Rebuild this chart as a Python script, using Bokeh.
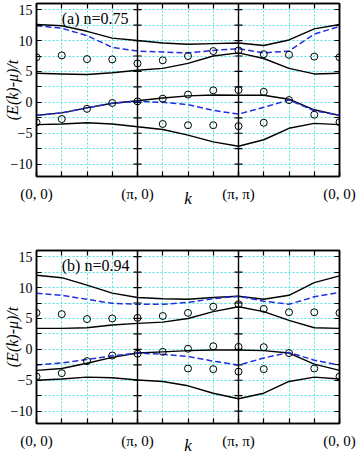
from bokeh.plotting import figure
from bokeh.models import FixedTicker, Label, Range1d, LinearAxis, Span
from bokeh.layouts import column
from bokeh.embed import file_html
from bokeh.resources import INLINE

# k-path positions (0,0)->(pi,0)->(pi,pi)->(0,0), each segment split in quarters
xq = [0, 0.25, 0.5, 0.75, 1, 1.25, 1.5, 1.75, 2, 2.25, 2.5, 2.75, 3]
x_major = [0, 1, 2, 3]
x_labels = ["(0, 0)", "(\u03c0, 0)", "(\u03c0, \u03c0)", "(0, 0)"]
dividers = [1, 2]
y_major = [-10, -5, 0, 5, 10, 15]
y_grid = [-10, -7.5, -5, -2.5, 0, 2.5, 5, 7.5, 10, 12.5, 15]

# ---- panel (a) n=0.75 ----
a_band1 = [12.6, 12.4, 11.5, 10.4, 10.0, 9.6, 9.4, 9.5, 9.6, 9.2, 10.1, 11.9, 12.6]
a_band2 = [4.7, 4.6, 4.5, 4.8, 5.2, 5.5, 6.3, 7.5, 8.0, 7.1, 5.5, 4.6, 4.7]
a_band3 = [-2.1, -1.7, -0.9, -0.15, 0.26, 0.7, 1.05, 1.2, 1.15, 1.15, 0.5, -1.2, -2.1]
a_band4 = [-3.6, -3.5, -3.3, -3.5, -3.95, -4.4, -5.3, -6.4, -7.1, -6.05, -4.2, -3.4, -3.6]
a_dash1 = [12.4, 12.0, 10.8, 8.9, 8.3, 8.15, 8.0, 8.4, 8.7, 8.0, 8.3, 11.05, 12.3]
a_dash2 = [-2.1, -1.7, -0.9, -0.15, 0.16, 0.0, -0.37, -1.3, -1.9, -0.8, 0.37, -1.35, -2.1]
a_circ_up = [7.3, 7.6, 7.0, 6.95, 6.3, 6.8, 7.5, 8.3, 8.4, 7.8, 7.7, 7.4, 7.3]
a_circ_mid = [-3.25, -2.7, -1.05, -0.1, 0.16, 0.6, 1.26, 1.95, 2.0, 1.7, 0.37, -2.0, -3.2]
a_circ_low_x = [1.25, 1.5, 1.75, 2.0, 2.25]
a_circ_low = [-3.5, -3.7, -3.7, -3.85, -3.3]

# ---- panel (b) n=0.94 ----
b_band1 = [12.0, 11.6, 10.4, 9.1, 8.4, 8.2, 8.1, 8.4, 8.6, 8.1, 8.75, 10.8, 11.9]
b_band2 = [3.4, 3.4, 3.5, 3.95, 4.2, 4.4, 5.0, 6.1, 6.9, 6.1, 4.7, 3.5, 3.4]
b_band3 = [-3.4, -3.1, -2.25, -1.3, -0.6, -0.4, -0.2, -0.1, -0.1, -0.2, -0.6, -2.4, -3.4]
b_band4 = [-5.0, -4.8, -4.5, -4.6, -4.95, -5.2, -5.9, -7.1, -8.0, -7.1, -5.2, -4.5, -4.8]
b_dash1 = [9.1, 8.75, 8.1, 7.45, 7.3, 7.3, 7.6, 8.2, 8.6, 7.8, 7.3, 8.5, 9.2]
b_dash2 = [-2.55, -2.2, -1.65, -1.05, -0.6, -0.8, -1.15, -1.9, -2.55, -1.4, -0.5, -1.75, -2.55]
b_circ_up = [5.9, 5.7, 4.9, 5.0, 5.1, 5.4, 5.9, 6.9, 7.3, 6.55, 6.0, 6.0, 5.9]
b_circ_mid = [-4.4, -3.85, -1.9, -1.0, -0.7, -0.4, 0.1, 0.5, 0.4, 0.35, -0.6, -3.1, -4.4]
b_circ_low_x = [1.5, 1.75, 2.0, 2.25]
b_circ_low = [-3.1, -3.2, -3.6, -3.2]

SERIF = "Liberation Serif"
BLUE = "#2030e0"
GRID = "#4fe3e3"


def make_panel(tag, bands, dashes, circ_up, circ_mid, low_x, low_y,
               border_top, border_bottom):
    p = figure(frame_width=303, frame_height=173, output_backend="svg",
               toolbar_location=None, x_range=Range1d(0, 3), y_range=Range1d(-12, 16),
               min_border_left=26, min_border_right=19,
               min_border_top=border_top, min_border_bottom=border_bottom)
    p.background_fill_color = "white"
    p.outline_line_color = "black"
    p.outline_line_width = 1.5

    # grid
    p.xgrid.ticker = FixedTicker(ticks=xq)
    p.ygrid.ticker = FixedTicker(ticks=y_grid)
    for g in (p.xgrid, p.ygrid):
        g.grid_line_color = GRID
        g.grid_line_dash = "2 2"
        g.grid_line_width = 1

    # bottom axis
    xa = p.xaxis[0]
    xa.ticker = FixedTicker(ticks=x_major, minor_ticks=xq)
    xa.major_label_overrides = {t: l for t, l in zip(x_major, x_labels)}
    xa.axis_label = "k"
    # left axis
    ya = p.yaxis[0]
    ya.ticker = FixedTicker(ticks=y_major, minor_ticks=y_grid)
    ya.axis_label = "(E(k)-\u03bc)/t"

    top = LinearAxis(ticker=FixedTicker(ticks=[], minor_ticks=xq))
    right = LinearAxis(ticker=FixedTicker(ticks=[], minor_ticks=y_grid))
    p.add_layout(top, "above")
    p.add_layout(right, "right")

    for ax in (xa, ya, top, right):
        ax.axis_line_color = "black"
        ax.axis_line_width = 1.5
        ax.major_tick_in = 5
        ax.major_tick_out = 0
        ax.minor_tick_in = 5
        ax.minor_tick_out = 0
        ax.major_tick_line_color = "black"
        ax.minor_tick_line_color = "black"
        ax.major_tick_line_width = 1.2
        ax.minor_tick_line_width = 1.2
        ax.major_label_text_font = SERIF
        ax.axis_label_text_font = SERIF
        ax.axis_label_text_font_style = "italic"
        ax.axis_label_text_color = "black"
        ax.major_label_text_color = "black"
    for ax in (top, right):
        ax.major_label_standoff = 0
        ax.axis_label_standoff = 0
    xa.major_label_text_font_size = "15px"
    xa.major_label_standoff = 9
    xa.axis_label_text_font_size = "17px"
    xa.axis_label_standoff = -16
    ya.major_label_text_font_size = "14px"
    ya.major_label_standoff = 4
    ya.axis_label_text_font_size = "16px"
    ya.axis_label_standoff = -13

    # section dividers with ticks on both sides
    for d in dividers:
        p.add_layout(Span(location=d, dimension="height", line_color="black",
                          line_width=1.4))
        p.scatter(x=[d] * len(y_grid), y=y_grid, marker="dash", size=8,
                  line_color="black", line_width=1.2)

    for b in bands:
        p.line(xq, b, line_color="black", line_width=1.4)
    for dsh in dashes:
        p.line(xq, dsh, line_color=BLUE, line_width=1.5, line_dash="6 3")

    p.scatter(xq, circ_up, marker="circle", size=7, fill_color=None,
              line_color="black", line_width=1)
    p.scatter(xq, circ_mid, marker="circle", size=7, fill_color=None,
              line_color="black", line_width=1)
    p.scatter(low_x, low_y, marker="circle", size=7, fill_color=None,
              line_color="black", line_width=1)

    p.add_layout(Label(x=0.25, y=13.6, text=tag, text_font=SERIF,
                       text_font_size="16px", text_baseline="middle",
                       text_color="black"))
    return p


pa = make_panel("(a) n=0.75", [a_band1, a_band2, a_band3, a_band4],
                [a_dash1, a_dash2], a_circ_up, a_circ_mid, a_circ_low_x, a_circ_low,
                border_top=3, border_bottom=54)
pb = make_panel("(b) n=0.94", [b_band1, b_band2, b_band3, b_band4],
                [b_dash1, b_dash2], b_circ_up, b_circ_mid, b_circ_low_x, b_circ_low,
                border_top=20, border_bottom=29)

layout = column(pa, pb)

open("out.html", "w").write(file_html(layout, INLINE))
